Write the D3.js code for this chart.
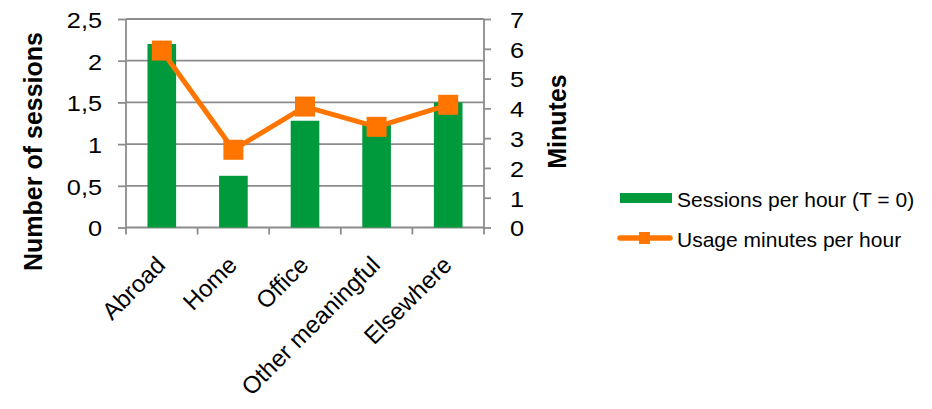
<!DOCTYPE html>
<html>
<head>
<meta charset="utf-8">
<script src="https://cdn.jsdelivr.net/npm/d3@7"></script>
<style>
  html, body { margin: 0; padding: 0; background: #fff; }
  svg text { font-family: "Liberation Sans", Arial, sans-serif; fill: #000; }
</style>
</head>
<body>
<svg id="chart" width="932" height="409"></svg>
<script>
// Locations and their per-hour usage figures
const categories = ["Abroad", "Home", "Office", "Other meaningful", "Elsewhere"];
const sessionsPerHour = [2.2, 0.62, 1.28, 1.25, 1.5];
const minutesPerHour = [5.94, 2.61, 4.06, 3.38, 4.12];
const sessionTicks = [0, 0.5, 1, 1.5, 2, 2.5];
const minuteTicks = [0, 1, 2, 3, 4, 5, 6, 7];
const seriesNames = ["Sessions per hour (T = 0)", "Usage minutes per hour"];

const green = "#009a3d";
const orange = "#ff7500";
const gridColor = "#8c8c8c";

const svg = d3.select("#chart");
const plot = { left: 126, right: 484, top: 19, bottom: 227.5 };

const commaLocale = d3.formatLocale({ decimal: ",", thousands: ".", grouping: [3], currency: ["", ""] });
const fmt = commaLocale.format("~g");

const x = d3.scaleBand().domain(categories).range([plot.left, plot.right]).paddingInner(0).paddingOuter(0);
const yLeft = d3.scaleLinear().domain([0, 2.5]).range([plot.bottom, plot.top]);
const yRight = d3.scaleLinear().domain([0, 7]).range([plot.bottom, plot.top]);

// tick numerals are drawn slightly widened
const tickStretch = 1.15;

// horizontal gridlines on the session scale
svg.append("g")
  .selectAll("line")
  .data(sessionTicks.filter(d => d > 0))
  .join("line")
  .attr("x1", plot.left).attr("x2", plot.right)
  .attr("y1", d => yLeft(d)).attr("y2", d => yLeft(d))
  .attr("stroke", gridColor).attr("stroke-width", 1.8);

// left axis
const leftAxis = svg.append("g")
  .attr("transform", `translate(${plot.left},0)`)
  .call(d3.axisLeft(yLeft).tickValues(sessionTicks).tickFormat(fmt).tickSize(8).tickPadding(16));
leftAxis.selectAll("path, line").attr("stroke", gridColor).attr("stroke-width", 1.8);
leftAxis.select(".domain").attr("d", `M0,${plot.top}V${plot.bottom}`);
leftAxis.selectAll("text")
  .attr("font-size", 22)
  .attr("font-family", "Liberation Sans, Arial, sans-serif")
  .attr("x", -24 / tickStretch)
  .attr("dy", "0.38em")
  .attr("transform", `scale(${tickStretch},1)`);

// right axis
const rightAxis = svg.append("g")
  .attr("transform", `translate(${plot.right},0)`)
  .call(d3.axisRight(yRight).tickValues(minuteTicks).tickFormat(fmt).tickSize(7).tickPadding(19));
rightAxis.selectAll("path, line").attr("stroke", gridColor).attr("stroke-width", 1.8);
rightAxis.select(".domain").attr("d", `M0,${plot.top}V${plot.bottom}`);
rightAxis.selectAll("text")
  .attr("font-size", 22)
  .attr("font-family", "Liberation Sans, Arial, sans-serif")
  .attr("x", 26 / tickStretch)
  .attr("dy", "0.38em")
  .attr("transform", `scale(${tickStretch},1)`);

// bottom axis with ticks between categories
const bottom = svg.append("g");
bottom.append("line")
  .attr("x1", plot.left).attr("x2", plot.right)
  .attr("y1", plot.bottom).attr("y2", plot.bottom)
  .attr("stroke", gridColor).attr("stroke-width", 1.8);
const boundaries = categories.map(c => x(c)).concat([x(categories[categories.length - 1]) + x.bandwidth()]);
bottom.selectAll("line.tick")
  .data(boundaries)
  .join("line")
  .attr("class", "tick")
  .attr("x1", d => d).attr("x2", d => d)
  .attr("y1", plot.bottom).attr("y2", plot.bottom + 7)
  .attr("stroke", gridColor).attr("stroke-width", 1.8);

// rotated category labels
bottom.selectAll("text")
  .data(categories)
  .join("text")
  .attr("transform", d => `translate(${x(d) + x.bandwidth() / 2 + 5},${plot.bottom + 39}) rotate(-45)`)
  .attr("text-anchor", "end")
  .attr("font-size", 24)
  .text(d => d);

// bars
const barW = x.bandwidth() * 0.4;
svg.append("g")
  .selectAll("rect")
  .data(categories)
  .join("rect")
  .attr("x", (d) => x(d) + (x.bandwidth() - barW) / 2)
  .attr("width", barW)
  .attr("y", (d, i) => yLeft(sessionsPerHour[i]))
  .attr("height", (d, i) => plot.bottom - yLeft(sessionsPerHour[i]))
  .attr("fill", green);

// usage minutes line with square markers
const pts = categories.map((c, i) => [x(c) + x.bandwidth() / 2, yRight(minutesPerHour[i])]);
svg.append("path")
  .attr("d", d3.line()(pts))
  .attr("fill", "none")
  .attr("stroke", orange)
  .attr("stroke-width", 5)
  .attr("stroke-linejoin", "round");
const ms = 20;
svg.append("g")
  .selectAll("rect")
  .data(pts)
  .join("rect")
  .attr("x", d => d[0] - ms / 2).attr("y", d => d[1] - ms / 2)
  .attr("width", ms).attr("height", ms)
  .attr("fill", orange);

// axis titles
svg.append("text")
  .attr("transform", `translate(42,151.5) rotate(-90)`)
  .attr("text-anchor", "middle")
  .attr("font-size", 25)
  .attr("font-weight", "bold")
  .text("Number of sessions");
svg.append("text")
  .attr("transform", `translate(566,121.5) rotate(-90)`)
  .attr("text-anchor", "middle")
  .attr("font-size", 25)
  .attr("font-weight", "bold")
  .text("Minutes");

// legend
const legend = svg.append("g");
legend.append("rect")
  .attr("x", 620).attr("y", 193).attr("width", 52).attr("height", 10)
  .attr("fill", green);
legend.append("text")
  .attr("x", 677).attr("y", 206.5)
  .attr("font-size", 21)
  .text(seriesNames[0]);
legend.append("line")
  .attr("x1", 620).attr("x2", 670).attr("y1", 238).attr("y2", 238)
  .attr("stroke", orange).attr("stroke-width", 5.5).attr("stroke-linecap", "round");
legend.append("rect")
  .attr("x", 639).attr("y", 232).attr("width", 11).attr("height", 12)
  .attr("fill", orange);
legend.append("text")
  .attr("x", 677).attr("y", 246.5)
  .attr("font-size", 21)
  .text(seriesNames[1]);
</script>
</body>
</html>
